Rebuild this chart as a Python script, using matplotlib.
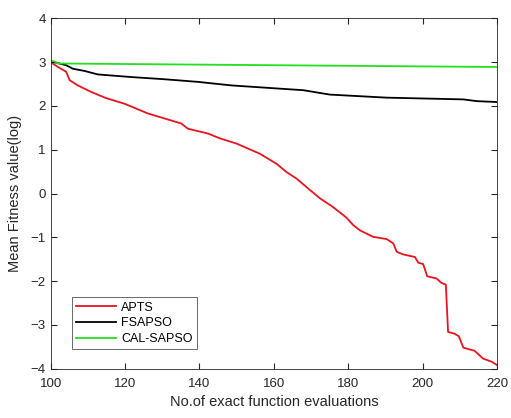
import numpy as np
import matplotlib.pyplot as plt

plt.rcParams['font.family'] = ['Liberation Sans', 'DejaVu Sans']

# APTS
apts_x = [100, 102, 104.2, 105.1, 107.3, 110.9, 114.9, 119.9, 126.1, 135.1, 136.9, 142.3,
          145.5, 150, 156.2, 160.7, 163.4, 166.1, 169.7, 172.4, 175.9, 179.5, 181.3, 183.1,
          186.7, 190.3, 192.1, 193, 194.7, 197.9, 198.8, 200.1, 201.2, 203.7, 205.0, 206.2,
          206.8, 208.5, 209.7, 210.9, 213.9, 216.2, 218.5, 220]
apts_y = [3.0, 2.89, 2.78, 2.59, 2.47, 2.32, 2.18, 2.05, 1.83, 1.60, 1.48, 1.37,
          1.26, 1.14, 0.91, 0.68, 0.49, 0.34, 0.08, -0.11, -0.31, -0.55, -0.72, -0.84,
          -0.99, -1.04, -1.14, -1.33, -1.39, -1.45, -1.58, -1.61, -1.89, -1.94, -2.04, -2.08,
          -3.16, -3.20, -3.26, -3.52, -3.59, -3.77, -3.84, -3.92]

# FSAPSO
fsapso_x = [100, 104.2, 106, 109.1, 112.7, 121.7, 130.6, 139.6, 148.5, 159, 167.9, 175,
            190.3, 210.9, 214.5, 220]
fsapso_y = [3.02, 2.93, 2.85, 2.80, 2.72, 2.66, 2.61, 2.55, 2.47, 2.41, 2.36, 2.26,
            2.19, 2.15, 2.11, 2.09]

# CAL-SAPSO
cal_x = [100, 101, 102, 220]
cal_y = [3.03, 3.02, 2.97, 2.89]

fig = plt.figure(figsize=(5.11, 4.18), dpi=100)
ax = fig.add_axes([0.099, 0.118, 0.874, 0.838])

ax.plot(apts_x, apts_y, color='#e8141e', linewidth=1.3, label='APTS')
ax.plot(fsapso_x, fsapso_y, color='black', linewidth=1.3, label='FSAPSO')
ax.plot(cal_x, cal_y, color='#22e01e', linewidth=1.3, label='CAL-SAPSO')

ax.set_xlim(100, 220)
ax.set_ylim(-4, 4)
ax.set_xticks(np.arange(100, 221, 20))
ax.set_yticks(np.arange(-4, 5, 1))
ax.tick_params(direction='in', top=True, right=True, labelsize=9.5, colors='#262626', length=4)
ax.tick_params(axis='x', pad=7)
for s in ax.spines.values():
    s.set_color('#262626')
    s.set_linewidth(0.6)

ax.set_xlabel('No.of exact function evaluations', fontsize=10.5, color='#262626', labelpad=3)
ax.set_ylabel('Mean Fitness value(log)', fontsize=10.5, color='#262626', labelpad=6)

leg = ax.legend(loc='lower left', bbox_to_anchor=(0.047, 0.055), fontsize=9, fancybox=False,
                edgecolor='#262626', handlelength=3.2, borderpad=0.35, labelspacing=0.3,
                handletextpad=0.4, borderaxespad=0)
leg.get_frame().set_linewidth(0.6)

plt.savefig('out.png', dpi=100)
